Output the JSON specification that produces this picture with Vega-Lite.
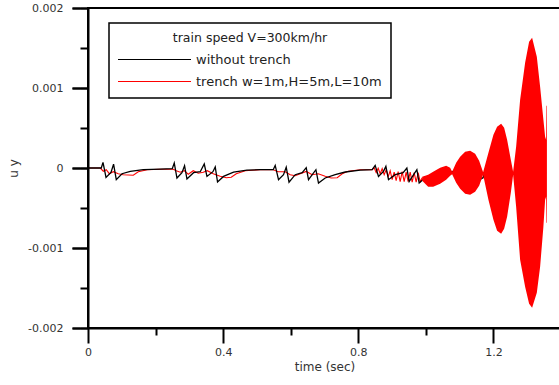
{
  "$schema": "https://vega.github.io/schema/vega-lite/v6.json",
  "width": 473,
  "height": 320,
  "autosize": {"type": "none"},
  "padding": {"left": 88, "top": 8, "right": 0, "bottom": 57},
  "background": "white",
  "config": {
    "view": {"stroke": "black", "strokeWidth": 2},
    "font": "DejaVu Sans"
  },
  "resolve": {"axis": {"y": "independent"}},
  "layer": [
    {
      "data": {"values": [
        {"t":0,"v":0},{"t":0.0364,"v":0},{"t":0.0453,"v":-0.00004},{"t":0.0541,"v":-0.0000213},{"t":0.0630,"v":-0.0000713},
        {"t":0.0749,"v":-0.0000463},{"t":0.0896,"v":-0.0000713},{"t":0.1044,"v":-0.0000838},{"t":0.1340,"v":-0.00009},{"t":0.1488,"v":-0.0000463},
        {"t":0.1754,"v":-0.0000213},{"t":0.2139,"v":-0.000015},{"t":0.2524,"v":-0.000015},{"t":0.2612,"v":-0.0000338},{"t":0.2731,"v":-0.0000525},
        {"t":0.2849,"v":-0.0000338},{"t":0.2967,"v":-0.0000775},{"t":0.3115,"v":-0.0000338},{"t":0.3263,"v":-0.000065},{"t":0.3411,"v":-0.0000525},
        {"t":0.3530,"v":-0.0000338},{"t":0.3707,"v":-0.0000713},{"t":0.3914,"v":-0.0001025},{"t":0.4092,"v":-0.0001213},{"t":0.4240,"v":-0.000115},
        {"t":0.4388,"v":-0.0000713},{"t":0.4654,"v":-0.0000338},{"t":0.5098,"v":-0.0000213},{"t":0.5482,"v":-0.0000213},{"t":0.5630,"v":-0.0000463},
        {"t":0.5837,"v":-0.0000463},{"t":0.5985,"v":-0.0000838},{"t":0.6133,"v":-0.0000963},{"t":0.6281,"v":-0.0000713},{"t":0.6459,"v":-0.0000425},
        {"t":0.6636,"v":-0.0000838},{"t":0.6814,"v":-0.0000713},{"t":0.7021,"v":-0.0001025},{"t":0.7198,"v":-0.000125},{"t":0.7376,"v":-0.0001213},
        {"t":0.7524,"v":-0.0000713},{"t":0.7701,"v":-0.00004},{"t":0.8056,"v":-0.0000213},{"t":0.8411,"v":-0.0000213},
        {"t":0.8470,"v":0.0000038},{"t":0.8530,"v":-0.0000588},{"t":0.8589,"v":-0.0000025},{"t":0.8648,"v":-0.0000713},{"t":0.8707,"v":-0.0000088},
        {"t":0.8766,"v":-0.0000838},{"t":0.8825,"v":-0.0000213},{"t":0.8885,"v":-0.0001088},{"t":0.8944,"v":-0.0000338},{"t":0.9003,"v":-0.000146},
        {"t":0.9062,"v":-0.0000525},{"t":0.9121,"v":-0.0001588},{"t":0.9180,"v":-0.0000463},{"t":0.9240,"v":-0.0001713},{"t":0.9299,"v":-0.0000463},
        {"t":0.9358,"v":-0.0001713},{"t":0.9417,"v":-0.0000525},{"t":0.9476,"v":-0.0001713},{"t":0.9536,"v":-0.0000525},{"t":0.9595,"v":-0.0001775},
        {"t":0.9654,"v":-0.0000588},{"t":0.9713,"v":-0.0001775},{"t":0.9772,"v":-0.0000588},{"t":0.9831,"v":-0.0001713},{"t":0.9891,"v":-0.0001213}
      ]},
      "mark": {"type": "line", "strokeWidth": 1.1},
      "encoding": {
        "x": {
          "field": "t", "type": "quantitative",
          "scale": {"domain": [0, 1.4], "nice": false, "zero": false},
          "axis": {
            "values": [0, 0.2, 0.4, 0.6, 0.8, 1.0, 1.2],
            "labelExpr": "round(datum.value*10) % 4 == 0 ? (datum.value == 0 ? '0' : format(datum.value, '.1f')) : ''",
            "tickSize": 15,
            "tickDash": {"condition": {"test": "round(datum.value*10) % 4 != 0", "value": [7, 40]}, "value": []},
            "tickColor": "black", "tickWidth": 2,
            "domainColor": "black", "domainWidth": 2,
            "grid": false, "labelFlush": false, "labelOverlap": false,
            "labelFont": "DejaVu Sans", "labelFontSize": 11, "labelColor": "#333333", "labelPadding": 3,
            "title": "time (sec)", "titleFont": "DejaVu Sans", "titleFontSize": 12, "titleFontWeight": "normal",
            "titleColor": "#333333", "titlePadding": 4
          }
        },
        "y": {
          "field": "v", "type": "quantitative",
          "scale": {"domain": [-0.002, 0.002], "nice": false, "zero": false},
          "axis": {
            "orient": "left",
            "values": [-0.002, -0.001, 0, 0.001, 0.002],
            "labelExpr": "datum.value == 0 ? '0' : (datum.value < 0 ? '-' : '') + format(abs(datum.value), '.3f')",
            "tickSize": 16, "tickColor": "black", "tickWidth": 2,
            "domainColor": "black", "domainWidth": 2, "zindex": 1,
            "grid": false,
            "labelFont": "DejaVu Sans", "labelFontSize": 11, "labelColor": "#333333", "labelPadding": 9,
            "title": "u y", "titleFont": "DejaVu Sans", "titleFontSize": 12, "titleFontWeight": "normal",
            "titleColor": "#333333", "titlePadding": 7
          }
        },
        "color": {
          "datum": "trench w=1m,H=5m,L=10m", "type": "nominal",
          "scale": {"domain": ["without trench", "trench w=1m,H=5m,L=10m"], "range": ["#000000", "#ff0000"]},
          "legend": {
            "orient": "none", "legendX": 21, "legendY": 15,
            "title": "train speed V=300km/hr",
            "titleAnchor": "middle", "titleFont": "DejaVu Sans", "titleFontSize": 12.5, "titleFontWeight": "normal",
            "titleColor": "#222222", "titlePadding": 9, "titleLimit": 400,
            "labelFont": "DejaVu Sans", "labelFontSize": 13, "labelColor": "#222222", "labelLimit": 400,
            "symbolType": "M-7.5,0L7.5,0", "symbolSize": 100, "symbolStrokeWidth": 1.2,
            "symbolOffset": 29, "labelOffset": 36, "clipHeight": 12,
            "strokeColor": "black", "fillColor": "white", "padding": 9, "rowPadding": 9,
            "encode": {"legend": {"update": {"strokeWidth": {"value": 1.5}}}}
          }
        }
      }
    },
    {
      "data": {"values": [
        {"t":0,"v":0},{"t":0.0393,"v":0},{"t":0.0444,"v":0.00007},{"t":0.0533,"v":-0.0001175},{"t":0.0680,"v":-0.000055},
        {"t":0.0757,"v":0.0000475},{"t":0.0837,"v":-0.000146},{"t":0.1006,"v":-0.0000713},{"t":0.1251,"v":-0.0000425},{"t":0.1636,"v":-0.0000213},
        {"t":0.2139,"v":-0.000015},{"t":0.2494,"v":-0.0000088},{"t":0.2553,"v":0.0000625},{"t":0.2633,"v":-0.000125},{"t":0.2781,"v":-0.0000588},
        {"t":0.2858,"v":0.0000288},{"t":0.2929,"v":-0.0001375},{"t":0.3124,"v":-0.0000588},{"t":0.3322,"v":-0.0000463},{"t":0.3441,"v":0.00005},
        {"t":0.3521,"v":-0.000105},{"t":0.3698,"v":-0.0000463},{"t":0.3766,"v":0.0000125},{"t":0.3834,"v":-0.000175},{"t":0.4012,"v":-0.000105},
        {"t":0.4308,"v":-0.0000525},{"t":0.4704,"v":-0.0000275},{"t":0.5098,"v":-0.0000213},{"t":0.5482,"v":-0.0000213},{"t":0.5541,"v":0.0000325},
        {"t":0.5639,"v":-0.000146},{"t":0.5787,"v":-0.0000838},{"t":0.5867,"v":0.00001},{"t":0.5950,"v":-0.0001775},{"t":0.6133,"v":-0.0000838},
        {"t":0.6340,"v":-0.0000588},{"t":0.6459,"v":0.0000038},{"t":0.6527,"v":-0.000146},{"t":0.6746,"v":-0.0000213},{"t":0.6822,"v":-0.0001875},
        {"t":0.7021,"v":-0.000125},{"t":0.7317,"v":-0.0000838},{"t":0.7612,"v":-0.00005},{"t":0.8056,"v":-0.0000275},{"t":0.8411,"v":-0.0000213},
        {"t":0.8500,"v":0.0000325},{"t":0.8598,"v":-0.000105},{"t":0.8746,"v":-0.0000425},{"t":0.8817,"v":0.00002},{"t":0.8894,"v":-0.000146},
        {"t":0.9092,"v":-0.0000838},{"t":0.9328,"v":-0.0000588},{"t":0.9438,"v":0},{"t":0.9506,"v":-0.0001675},{"t":0.9734,"v":-0.0000213},
        {"t":0.9802,"v":-0.0001875},{"t":0.9979,"v":-0.0001213},{"t":1.0275,"v":-0.0000838},{"t":1.0719,"v":-0.0000463},{"t":1.1370,"v":-0.0000338},
        {"t":1.1488,"v":0.0000288},{"t":1.1577,"v":-0.000146},{"t":1.1695,"v":-0.0001213},{"t":1.1784,"v":0.0000038},{"t":1.1873,"v":-0.0001713},
        {"t":1.2080,"v":-0.0000838},{"t":1.2406,"v":0.0000163},{"t":1.2479,"v":-0.000146},{"t":1.2583,"v":-0.0000713},{"t":1.2731,"v":-0.0000088},
        {"t":1.2805,"v":-0.0001838},{"t":1.3086,"v":-0.0001088},{"t":1.3559,"v":-0.0000588}
      ]},
      "mark": {"type": "line", "strokeWidth": 1.3},
      "encoding": {
        "x": {"field": "t", "type": "quantitative"},
        "y": {
          "field": "v", "type": "quantitative",
          "axis": {
            "orient": "left",
            "values": [-0.002, -0.0015, -0.001, -0.0005, 0, 0.0005, 0.001, 0.0015, 0.002],
            "labels": false, "domain": false, "grid": false, "title": null,
            "tickSize": 8, "tickColor": "black", "tickWidth": 2, "zindex": 1
          }
        },
        "color": {"datum": "without trench", "type": "nominal"}
      }
    },
    {
      "data": {"values": [
        {"t":0.9891,"hi":-0.0001088,"lo":-0.0001588},{"t":1.0068,"hi":-0.0000838,"lo":-0.0002338},{"t":1.0216,"hi":-0.0000463,"lo":-0.0002338},
        {"t":1.0423,"hi":0.0000038,"lo":-0.0001963},{"t":1.0601,"hi":0.0000288,"lo":-0.0001463},{"t":1.0719,"hi":0.0000038,"lo":-0.0000963},
        {"t":1.0778,"hi":-0.0000463,"lo":-0.0000775},{"t":1.0897,"hi":0.0000663,"lo":-0.0001838},{"t":1.1015,"hi":0.0001413,"lo":-0.0002588},
        {"t":1.1163,"hi":0.0002038,"lo":-0.0003213},{"t":1.1311,"hi":0.0002163,"lo":-0.0003338},{"t":1.1459,"hi":0.0001788,"lo":-0.0002963},
        {"t":1.1577,"hi":0.0000913,"lo":-0.0002213},{"t":1.1695,"hi":-0.0000525,"lo":-0.0000838},{"t":1.1852,"hi":0.0001913,"lo":-0.0003963},
        {"t":1.2000,"hi":0.0004163,"lo":-0.0006463},{"t":1.2109,"hi":0.0005163,"lo":-0.0007838},{"t":1.2228,"hi":0.0005538,"lo":-0.0008213},
        {"t":1.2317,"hi":0.0005038,"lo":-0.0007588},{"t":1.2405,"hi":0.0003538,"lo":-0.0006088},{"t":1.2515,"hi":0.0001038,"lo":-0.0003088},
        {"t":1.2583,"hi":-0.0000463,"lo":-0.0000838},{"t":1.2672,"hi":0.0002663,"lo":-0.0004838},{"t":1.2790,"hi":0.0008538,"lo":-0.0011463},
        {"t":1.2938,"hi":0.0013163,"lo":-0.0014838},{"t":1.3056,"hi":0.0015788,"lo":-0.0016963},{"t":1.3145,"hi":0.0016288,"lo":-0.0017463},
        {"t":1.3284,"hi":0.0013913,"lo":-0.0015588},{"t":1.3382,"hi":0.0010163,"lo":-0.0012338},{"t":1.3479,"hi":0.0006038,"lo":-0.0007338},
        {"t":1.3530,"hi":0.0003913,"lo":-0.0003963},{"t":1.3559,"hi":0.0003538,"lo":-0.0003588},{"t":1.3568,"hi":0.0007775,"lo":-0.0006838},
        {"t":1.3583,"hi":0.0007775,"lo":-0.0006838}
      ]},
      "mark": {"type": "area", "color": "#ff0000"},
      "encoding": {
        "x": {"field": "t", "type": "quantitative"},
        "y": {
          "field": "hi", "type": "quantitative",
          "axis": {
            "orient": "left", "offset": 8,
            "values": [-0.002, -0.001, 0, 0.001, 0.002],
            "labels": false, "domain": false, "grid": false, "title": null,
            "tickSize": 8, "tickColor": "black", "tickWidth": 2, "zindex": 1
          }
        },
        "y2": {"field": "lo"}
      }
    }
  ]
}
